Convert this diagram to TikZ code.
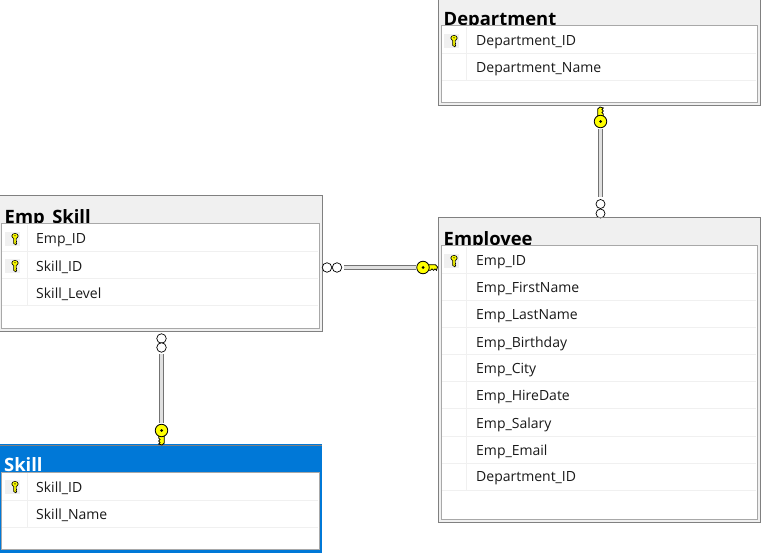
\documentclass[tikz,border=0pt]{standalone}
\usepackage{fontspec}
\setmainfont{Open Sans}
\definecolor{titlegray}{HTML}{F0F0F0}
\definecolor{framegray}{HTML}{808080}
\definecolor{innergray}{HTML}{A8A8A8}
\definecolor{selblue}{HTML}{0078D7}
\definecolor{keyyellow}{HTML}{FFFF00}
\tikzset{
  tablebox/.style={draw=framegray, line width=1pt, fill=titlegray, anchor=north west, inner sep=0pt, outer sep=0pt},
  gridbox/.style={draw=innergray, line width=1pt, fill=white, anchor=north west, inner sep=0pt, outer sep=0pt},
  tabletitle/.style={anchor=base west, inner sep=0pt, font=\bfseries\fontsize{18.4}{20}\selectfont},
  colname/.style={anchor=west, inner sep=0pt, yshift=-1.5pt, text=black!90, font=\fontsize{14}{16}\selectfont},
  rowline/.style={draw=titlegray, line width=1pt},
  relline/.style={draw=black!55, line width=0.9pt, double=black!12, double distance=2.6pt},
  ringend/.style={circle, draw=black, fill=white, line width=0.7pt, minimum size=9.5pt, inner sep=0pt, outer sep=0pt},
  keyhead/.style={circle, draw=black, fill=keyyellow, line width=0.8pt, minimum size=12.5pt, inner sep=0pt, outer sep=0pt},
  rowkey/.pic={
    \fill[titlegray] (-7.5,-7) rectangle (7.5,7);
    \draw[fill=keyyellow, line width=0.6pt] (2.5,-3) ellipse (3.2 and 2.6);
    \fill[black] (2.5,-3.2) circle (0.7);
    \draw[fill=keyyellow, line width=0.6pt] (1.2,-0.8) -- (1.2,4.4) -- (3.2,5.8) -- (4.2,4.6) -- (3.4,3.6) -- (4.2,2.6) -- (3.6,1.6) -- (3.8,-0.8);
  },
  bigkey/.pic={
    \draw[fill=keyyellow, line width=0.8pt] (4,-2.8) -- (12.5,-2.8) -- (14.5,-0.5) -- (13.5,2.8) -- (12,1.5) -- (10.5,2.8) -- (9,1.5) -- (7.5,2.8) -- (4,2.8) -- cycle;
  }
}
\begin{document}
\begin{tikzpicture}[x=1pt, y=-1pt]
  \useasboundingbox (0,0) rectangle (764,556);
  \clip (0,0) rectangle (764,556);
  \fill[white] (0,0) rectangle (764,556);

  % Department
  \node[tablebox, minimum width=322pt, minimum height=110pt] (dept) at (438,-4) {};
  \node[tabletitle] (depttitle) at (443.5,26) {Department};
  \node[gridbox, minimum width=316pt, minimum height=77pt] (deptgrid) at (441,26) {};
  \draw[rowline] (442,54) -- (756,54);
  \draw[rowline] (442,81) -- (756,81);
  \draw[rowline] (466,27) -- (466,81);
  \pic at (451.5,41) {rowkey};
  \node[colname] (deptid) at (476,41) {Department\_ID};
  \node[colname] (deptname) at (476,68) {Department\_Name};

  % Employee
  \node[tablebox, minimum width=322pt, minimum height=304pt] (emp) at (438,218) {};
  \node[tabletitle] (emptitle) at (443.5,246) {Employee};
  \node[gridbox, minimum width=316pt, minimum height=273pt] (empgrid) at (441,246) {};
  \draw[rowline] (442,274) -- (756,274);
  \draw[rowline] (442,301) -- (756,301);
  \draw[rowline] (442,328) -- (756,328);
  \draw[rowline] (442,355) -- (756,355);
  \draw[rowline] (442,382) -- (756,382);
  \draw[rowline] (442,409) -- (756,409);
  \draw[rowline] (442,436) -- (756,436);
  \draw[rowline] (442,463) -- (756,463);
  \draw[rowline] (442,490) -- (756,490);
  \draw[rowline] (466,247) -- (466,490);
  \pic at (451.5,261) {rowkey};
  \node[colname] (empid) at (476,261) {Emp\_ID};
  \node[colname] (empfirst) at (476,288) {Emp\_FirstName};
  \node[colname] (emplast) at (476,315) {Emp\_LastName};
  \node[colname] (empbirth) at (476,342) {Emp\_Birthday};
  \node[colname] (empcity) at (476,369) {Emp\_City};
  \node[colname] (emphire) at (476,396) {Emp\_HireDate};
  \node[colname] (empsalary) at (476,423) {Emp\_Salary};
  \node[colname] (empemail) at (476,450) {Emp\_Email};
  \node[colname] (empdept) at (476,477) {Department\_ID};

  % Emp_Skill
  \node[tablebox, minimum width=324pt, minimum height=136pt] (es) at (-2,196) {};
  \node[tabletitle] (estitle) at (4.5,224) {Emp\_Skill};
  \node[gridbox, minimum width=318pt, minimum height=105pt] (esgrid) at (1,224) {};
  \draw[rowline] (2,252) -- (318,252);
  \draw[rowline] (2,279) -- (318,279);
  \draw[rowline] (2,306) -- (318,306);
  \draw[rowline] (27,225) -- (27,306);
  \pic at (12.5,239) {rowkey};
  \pic at (12.5,266) {rowkey};
  \node[colname] (esemp) at (36,239) {Emp\_ID};
  \node[colname] (esskill) at (36,266) {Skill\_ID};
  \node[colname] (eslevel) at (36,293) {Skill\_Level};

  % Skill (selected)
  \node[tablebox, draw=selblue, fill=selblue, line width=2pt, minimum width=323pt, minimum height=107pt] (skill) at (-2,445) {};
  \draw[framegray, line width=1pt] (-2,445) -- (322,445);
  \node[tabletitle, text=white] (skilltitle) at (4,471) {Skill};
  \node[gridbox, minimum width=318pt, minimum height=77pt] (skillgrid) at (1,472) {};
  \draw[rowline] (2,500) -- (318,500);
  \draw[rowline] (2,527) -- (318,527);
  \draw[rowline] (27,473) -- (27,527);
  \pic at (12.5,487) {rowkey};
  \node[colname] (skillid) at (36,487) {Skill\_ID};
  \node[colname] (skillname) at (36,514) {Skill\_Name};

  % Department to Employee
  \pic[rotate=90] at (600.5,121.5) {bigkey};
  \node[keyhead] (deptkey) at (600.5,121.5) {};
  \fill (deptkey) circle (1.5);
  \node[ringend, minimum size=9pt] (deptringb) at (600.5,213.5) {};
  \node[ringend, minimum size=9pt] (deptringa) at (600.5,204) {};
  \coordinate (deptstart) at ([yshift=-1pt]deptkey.south);
  \coordinate (deptend) at ([yshift=2pt]deptringa.north);
  \draw[relline] (deptstart) -- (deptend);
  \fill[titlegray] (590,219) rectangle (610,222);
  \draw[framegray, line width=1pt] (590,218) -- (610,218);

  % Emp_Skill to Employee
  \node[ringend] (linkringa) at (327,267.5) {};
  \node[ringend] (linkringb) at (337,267.5) {};
  \pic at (423,267.5) {bigkey};
  \node[keyhead] (linkkey) at (423,267.5) {};
  \fill (linkkey) circle (1.5);
  \coordinate (linkstart) at ([xshift=2pt]linkringb.east);
  \coordinate (linkend) at ([xshift=-1pt]linkkey.west);
  \draw[relline] (linkstart) -- (linkend);

  % Emp_Skill to Skill
  \node[ringend] (skillringa) at (161.5,338.5) {};
  \node[ringend] (skillringb) at (161.5,347.5) {};
  \pic[rotate=-90] at (161.5,430.5) {bigkey};
  \node[keyhead] (skillkey) at (161.5,430.5) {};
  \fill (skillkey) circle (1.5);
  \coordinate (skillstart) at ([yshift=-2pt]skillringb.south);
  \coordinate (skillend) at ([yshift=1pt]skillkey.north);
  \draw[relline] (skillstart) -- (skillend);
\end{tikzpicture}
\end{document}
